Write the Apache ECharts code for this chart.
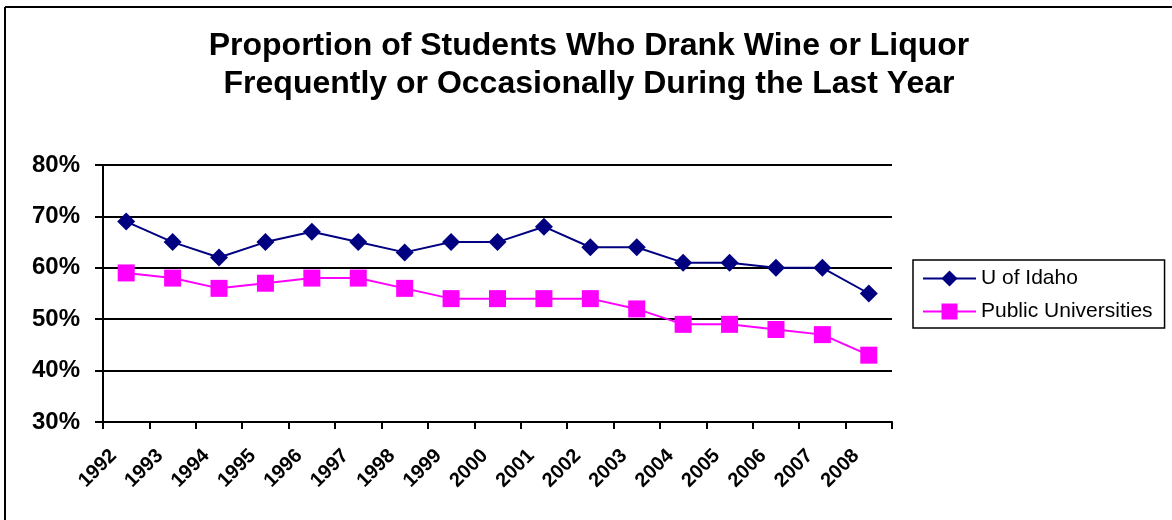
<!DOCTYPE html>
<html>
<head>
<meta charset="utf-8">
<script src="https://cdn.jsdelivr.net/npm/echarts@6/dist/echarts.min.js"></script>
<style>
html,body{margin:0;padding:0;background:#fff;}
#chart{width:1172px;height:520px;}
</style>
</head>
<body>
<div id="chart"></div>
<script>
var years = ['1992','1993','1994','1995','1996','1997','1998','1999','2000','2001','2002','2003','2004','2005','2006','2007','2008'];
var uIdaho = [69,65,62,65,67,65,63,65,65,68,64,64,61,61,60,60,55];
var publicUniv = [59,58,56,57,58,58,56,54,54,54,54,52,49,49,48,47,43];
var yTicks = {min:30, max:80, interval:10};

var FONT = 'Arial, "Liberation Sans", sans-serif';
var chart = echarts.init(document.getElementById('chart'), null, {renderer:'canvas'});
chart.setOption({
  backgroundColor:'#ffffff',
  animation:false,
  graphic:[
    {type:'line', z:-1, shape:{x1:5, y1:7, x2:1172, y2:7}, style:{stroke:'#000', lineWidth:2}},
    {type:'line', z:-1, shape:{x1:5, y1:7, x2:5, y2:520}, style:{stroke:'#000', lineWidth:2}}
  ],
  title:{
    text:'Proportion of Students Who Drank Wine or Liquor\nFrequently or Occasionally During the Last Year',
    left:589, top:27, textAlign:'center', padding:0,
    textStyle:{fontFamily:FONT, fontSize:32, fontWeight:'bold', color:'#000', lineHeight:38}
  },
  legend:{
    orient:'vertical', left:913, top:260,
    padding:[8,12,6,9], itemGap:12,
    itemWidth:53, itemHeight:20,
    borderColor:'#000', borderWidth:1.5,
    textStyle:{fontFamily:FONT, fontSize:21, color:'#000'},
    data:['U of Idaho','Public Universities']
  },
  grid:{left:103, right:280, top:165, bottom:98, containLabel:false},
  xAxis:{
    type:'category', data:years, boundaryGap:true,
    axisLine:{lineStyle:{color:'#000', width:2}},
    axisTick:{show:true, length:7, lineStyle:{color:'#000', width:2}},
    axisLabel:{rotate:45, margin:18, padding:[0,18,0,0], fontFamily:FONT, fontSize:20, fontWeight:'bold', color:'#000', interval:0}
  },
  yAxis:{
    type:'value', min:yTicks.min, max:yTicks.max, interval:yTicks.interval,
    axisLine:{show:true, lineStyle:{color:'#000', width:2}},
    axisTick:{show:true, length:8, lineStyle:{color:'#000', width:2}},
    splitLine:{show:true, lineStyle:{color:'#000', width:2}},
    axisLabel:{formatter:'{value}%', margin:23, fontFamily:FONT, fontSize:24, fontWeight:'bold', color:'#000'}
  },
  series:[
    {name:'U of Idaho', type:'line', data:uIdaho, color:'#000080',
     symbol:'diamond', symbolSize:18, lineStyle:{width:2, color:'#000080'},
     itemStyle:{color:'#000080'}},
    {name:'Public Universities', type:'line', data:publicUniv, color:'#FF00FF',
     symbol:'rect', symbolSize:17, lineStyle:{width:2, color:'#FF00FF'},
     itemStyle:{color:'#FF00FF'}}
  ]
});
</script>
</body>
</html>
